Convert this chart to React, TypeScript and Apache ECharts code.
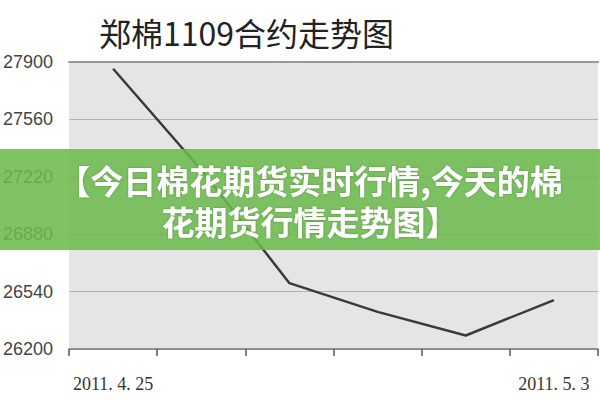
import React, { useEffect, useRef } from "react";
import * as echarts from "echarts";

const categories = ["2011. 4. 25", "2011. 4. 26", "2011. 4. 27", "2011. 4. 28", "2011. 4. 29", "2011. 5. 3"];
const prices = [27860, 27260, 26590, 26420, 26280, 26490];
const yTicks = [26200, 26540, 26880, 27220, 27560, 27900];
const titleText = "郑棉1109合约走势图";
const bannerLines = ["【今日棉花期货实时行情,今天的棉", "花期货行情走势图】"];

const base = yTicks[0];
const step = yTicks[1] - yTicks[0];

export default function App() {
  const ref = useRef<HTMLDivElement>(null);
  useEffect(() => {
    if (!ref.current) return;
    const chart = echarts.init(ref.current, null, { renderer: "svg" });
    chart.setOption({
      animation: false,
      backgroundColor: "#ffffff",
      grid: {
        left: 68,
        right: 2,
        top: 62,
        bottom: 51,
        show: true,
        backgroundColor: "#e5e5e5",
        borderWidth: 0,
      },
      xAxis: [
        {
          type: "category",
          data: categories,
          boundaryGap: true,
          axisLine: { show: true, lineStyle: { color: "#7a7a7a", width: 1.5 } },
          axisTick: { show: true, interval: 0, length: 7, lineStyle: { color: "#555", width: 1.5 } },
          axisLabel: {
            interval: 0,
            formatter: (v: string, i: number) => (i === 0 || i === categories.length - 1 ? v : ""),
            margin: 26,
            color: "#333",
            fontSize: 18,
            fontFamily: "Liberation Serif",
          },
          splitLine: { show: false },
        },
        {
          type: "category",
          position: "top",
          data: categories,
          axisLine: { show: true, lineStyle: { color: "#999", width: 2 } },
          axisTick: { show: false },
          axisLabel: { show: false },
        },
      ],
      yAxis: {
        type: "value",
        min: 0,
        max: yTicks[yTicks.length - 1] - base,
        interval: step,
        axisLine: { show: false },
        axisTick: { show: false },
        axisLabel: {
          formatter: (v: number) => String(v + base),
          color: "#444",
          fontSize: 18,
          fontFamily: "Liberation Sans",
          margin: 16,
        },
        splitLine: { show: true, lineStyle: { color: "#b3b3b3", width: 1 } },
      },
      series: [
        {
          type: "line",
          data: prices.map((p) => p - base),
          symbol: "none",
          lineStyle: { color: "#3a3a3a", width: 2.5 },
          z: 3,
        },
      ],
      graphic: [
        {
          type: "text",
          left: 99,
          top: 16,
          style: {
            text: titleText,
            fontSize: 32,
            fontFamily: "Noto Sans CJK SC",
            fill: "#222",
          },
          z: 10,
        },
        {
          type: "rect",
          shape: { x: 0, y: 149, width: 600, height: 101 },
          style: { fill: "rgba(108,186,78,0.87)" },
          z: 20,
        },
        {
          type: "text",
          x: 310,
          y: 200,
          style: {
            text: bannerLines.join("\n"),
            fontSize: 33,
            lineHeight: 41,
            fontWeight: "bold",
            fontFamily: "Noto Sans CJK SC",
            fill: "#ffffff",
            align: "center",
            verticalAlign: "middle",
            textShadowColor: "rgba(0,0,0,0.25)",
            textShadowBlur: 2,
          },
          z: 21,
        },
      ],
    });
    return () => chart.dispose();
  }, []);
  return (
    <div
      ref={ref}
      style={{ position: "fixed", left: 0, top: 0, width: 600, height: 400 }}
    />
  );
}
